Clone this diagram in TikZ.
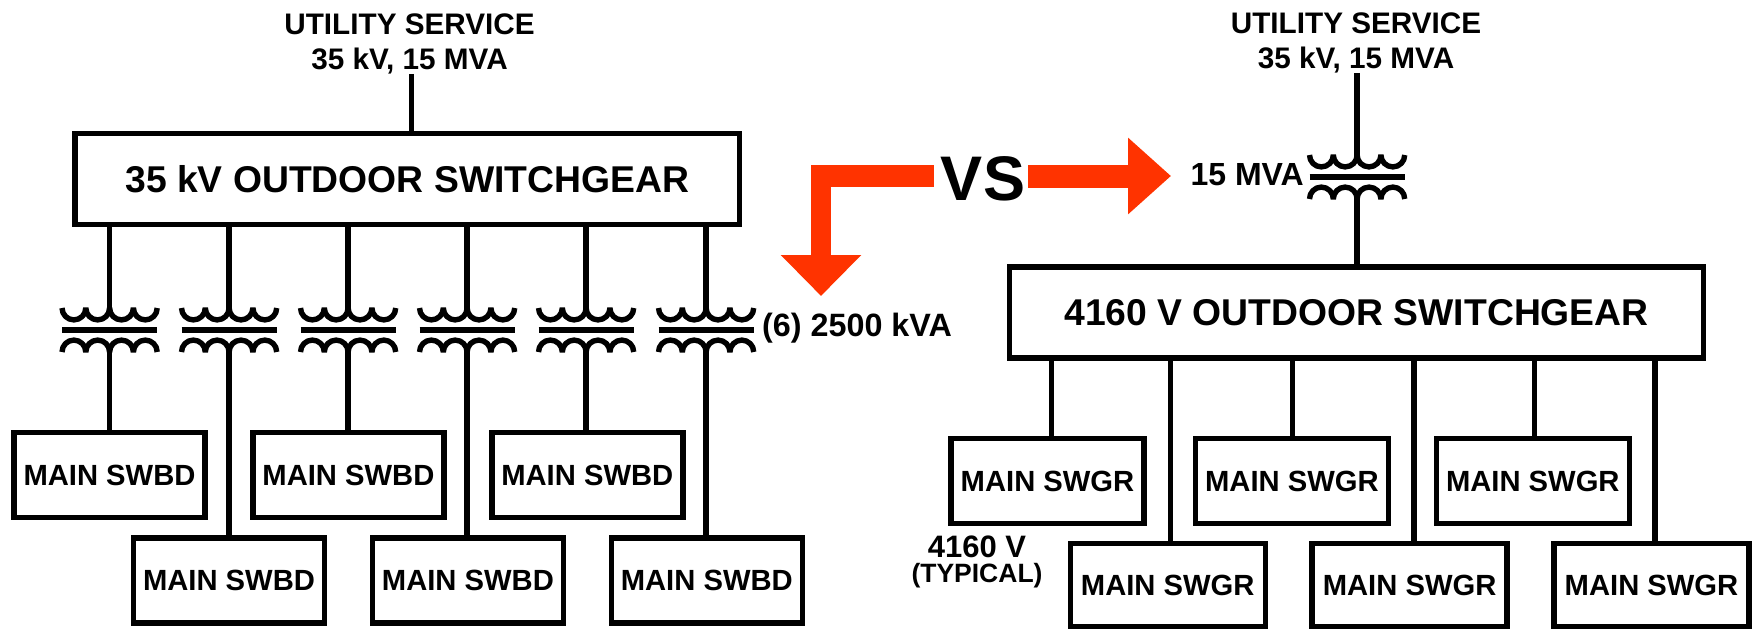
\documentclass[tikz,border=0pt]{standalone}
\usepackage{fontspec}
\setmainfont{Liberation Sans}
\usepackage{tikz}
\usetikzlibrary{arrows.meta,positioning}
\definecolor{vsorange}{HTML}{FF3300}

\begin{document}
\begin{tikzpicture}[
    x=1pt, y=-1pt,
    gear/.style={draw=black, fill=white, line width=5.4pt, inner sep=0pt,
                 font=\fontsize{37.3}{39}\selectfont\bfseries},
    swbd/.style={draw=black, fill=white, line width=5.4pt, inner sep=0pt,
                 minimum width=191pt, minimum height=85pt,
                 font=\fontsize{29.2}{31}\selectfont\bfseries},
    swgr/.style={swbd, minimum width=193pt},
    swgrlow/.style={swbd, minimum width=195pt, minimum height=83pt},
    lbl/.style={align=center, inner sep=0pt,
                font=\fontsize{29.7}{35}\selectfont\bfseries},
    wire/.style={line width=5.4pt},
    bigarr/.style={-{Triangle[length=43pt, width=74pt]}, line width=23pt, vsorange},
    pics/xfmr/.style={code={
        \draw[line width=6pt] (-47.5,0) -- (47.5,0);
        \draw[line width=5.4pt, line join=bevel] (-47.5,-22) arc[start angle=180, end angle=0, radius=11.9]
          arc[start angle=180, end angle=0, radius=11.9]
          arc[start angle=180, end angle=0, radius=11.9]
          arc[start angle=180, end angle=0, radius=11.9];
        \draw[line width=5.4pt, line join=bevel] (-47.5,22) arc[start angle=180, end angle=360, radius=11.9]
          arc[start angle=180, end angle=360, radius=11.9]
          arc[start angle=180, end angle=360, radius=11.9]
          arc[start angle=180, end angle=360, radius=11.9];
        \coordinate (-top) at (0,-20);
        \coordinate (-bot) at (0,20);
    }},
  ]
  \useasboundingbox (0,0) rectangle (1760,629);

  % left side
  \node[lbl] (util1) at (409.5,43.5) {UTILITY SERVICE\\35 kV, 15 MVA};
  \node[gear, minimum width=664.5pt, minimum height=91pt] (gear35) at (407.2,179) {35 kV OUTDOOR SWITCHGEAR};
  \draw[wire] (util1.south -| 411.7,0) -- (gear35.north -| 411.7,0);

  \foreach \i/\xx in {1/109.5, 2/229, 3/348, 4/467, 5/586, 6/706}
    \pic (t\i) at (\xx,330) {xfmr};

  \node[swbd] (swbd1) at (109.5,475) {MAIN SWBD};
  \node[swbd, right=42.5pt of swbd1] (swbd3) {MAIN SWBD};
  \node[swbd, right=42.5pt of swbd3] (swbd5) {MAIN SWBD};
  \node[swbd] (swbd2) at (229,580.5) {MAIN SWBD};
  \node[swbd, right=42.5pt of swbd2] (swbd4) {MAIN SWBD};
  \node[swbd, right=42.5pt of swbd4] (swbd6) {MAIN SWBD};

  \foreach \i in {1,...,6} {
    \draw[wire] (t\i-top |- gear35.south) -- (t\i-top);
    \draw[wire] (t\i-bot) -- (t\i-bot |- swbd\i.north);
  }
  \node[lbl, anchor=west, font=\fontsize{32.3}{34}\selectfont\bfseries] (rating6) at (762,328) {(6) 2500 kVA};

  % middle
  \node[inner sep=3pt, font=\fontsize{63}{66}\selectfont\bfseries] (vs) at (983,179) {VS};
  \coordinate (rtip) at (1171,176);
  \coordinate (bend) at (811,176);
  \coordinate (bendv) at (821,165);
  \coordinate (ltip) at (821,296);
  \draw[bigarr] (vs.east |- rtip) -- (rtip);
  \draw[line width=22pt, vsorange, shorten <=4pt] (vs.west |- rtip) -- (bend);
  \draw[bigarr, line width=20pt, -{Triangle[length=41pt, width=78pt]}] (bendv) -- (ltip);

  % right side
  \node[lbl] (util2) at (1356,42.5) {UTILITY SERVICE\\35 kV, 15 MVA};
  \pic (t7) at (1357,177) {xfmr};
  \node[lbl, anchor=east, font=\fontsize{32}{34}\selectfont\bfseries] (rating1) at (1304,175) {15 MVA};
  \draw[wire] (util2.south -| t7-top) -- (t7-top);
  \node[gear, minimum width=694pt, minimum height=91pt] (gear4) at (1356.5,312.5) {4160 V OUTDOOR SWITCHGEAR};
  \draw[wire] (t7-bot) -- (gear4.north -| t7-bot);

  \node[swgr] (swgr1) at (1047.5,481) {MAIN SWGR};
  \node[swgr, right=46pt of swgr1] (swgr3) {MAIN SWGR};
  \node[swgr, right=42.5pt of swgr3] (swgr5) {MAIN SWGR};
  \node[swgrlow] (swgr2) at (1167.7,585) {MAIN SWGR};
  \node[swgrlow, right=41.5pt of swgr2] (swgr4) {MAIN SWGR};
  \node[swgrlow, right=41.5pt of swgr4] (swgr6) {MAIN SWGR};

  \foreach \i/\xx in {1/1051.7, 2/1170.7, 3/1292.7, 4/1414, 5/1534.3, 6/1655}
    \draw[wire] (gear4.south -| \xx,0) -- (swgr\i.north -| \xx,0);

  \node[lbl, font=\fontsize{31}{31}\selectfont\bfseries] (v4160) at (977,547) {4160 V};
  \node[lbl, below=5pt of v4160, font=\fontsize{26.5}{28}\selectfont\bfseries] (typ) {(TYPICAL)};
\end{tikzpicture}
\end{document}
